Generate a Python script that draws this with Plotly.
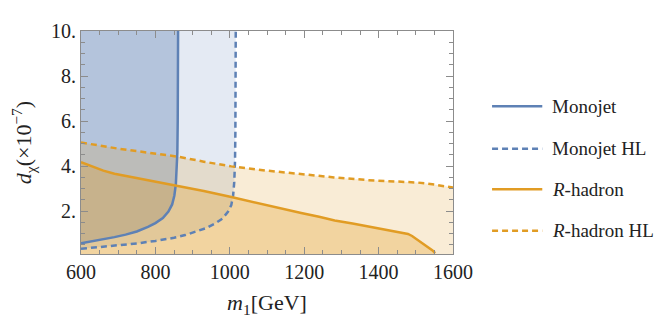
import plotly.graph_objects as go

# ---- data ----
m_mono = [600, 630, 660, 690, 720, 750, 780, 800, 820, 835, 845, 851, 855, 857, 859, 860, 861]
d_mono = [0.58, 0.66, 0.75, 0.85, 0.96, 1.1, 1.3, 1.47, 1.7, 1.98, 2.3, 2.7, 3.2, 3.8, 4.6, 6.0, 10.0]

m_monoHL = [600, 650, 700, 750, 800, 850, 880, 910, 935, 960, 980, 995, 1004, 1009, 1012, 1014, 1015, 1016]
d_monoHL = [0.33, 0.40, 0.48, 0.57, 0.68, 0.82, 0.94, 1.09, 1.24, 1.45, 1.67, 1.97, 2.27, 2.7, 3.3, 4.2, 5.5, 10.0]

m_rh = [600, 630, 660, 690, 744, 800, 861, 930, 1004, 1050, 1103, 1150, 1192, 1240, 1282,
        1330, 1371, 1420, 1460, 1479, 1490, 1506, 1520, 1533, 1545, 1552]
d_rh = [4.18, 3.98, 3.8, 3.66, 3.49, 3.32, 3.13, 2.9, 2.63, 2.45, 2.27, 2.09, 1.92, 1.75, 1.59,
        1.45, 1.32, 1.17, 1.06, 0.99, 0.9, 0.72, 0.56, 0.42, 0.26, 0.14]

m_rhHL = [600, 650, 699, 780, 861, 930, 1004, 1100, 1192, 1280, 1371, 1440, 1506, 1550, 1600]
d_rhHL = [5.05, 4.9, 4.78, 4.6, 4.42, 4.2, 3.99, 3.8, 3.64, 3.5, 3.38, 3.33, 3.27, 3.18, 3.05]

series_names = ["Monojet", "Monojet HL", "<i>R</i>-hadron", "<i>R</i>-hadron HL"]

x_ticks = [600, 800, 1000, 1200, 1400, 1600]
y_ticks = [2, 4, 6, 8, 10]
y_ticktext = ["2.", "4.", "6.", "8.", "10."]

x_min, x_max = 600, 1600
y_min, y_max = 0.1, 10

BLUE = "#5E81B5"
ORANGE = "#E19C24"
DASH = "6px,4px"

fig = go.Figure()

# fills
fig.add_trace(go.Scatter(x=m_monoHL + [x_min], y=d_monoHL + [y_max], fill="toself",
                         fillcolor="rgba(94,129,181,0.17)", line=dict(width=0),
                         mode="lines", showlegend=False, hoverinfo="skip"))
fig.add_trace(go.Scatter(x=m_mono + [x_min], y=d_mono + [y_max], fill="toself",
                         fillcolor="rgba(94,129,181,0.36)", line=dict(width=0),
                         mode="lines", showlegend=False, hoverinfo="skip"))
fig.add_trace(go.Scatter(x=m_rhHL + [x_max, x_min], y=d_rhHL + [y_min, y_min], fill="toself",
                         fillcolor="rgba(225,156,36,0.19)", line=dict(width=0),
                         mode="lines", showlegend=False, hoverinfo="skip"))
fig.add_trace(go.Scatter(x=m_rh + [m_rh[-1], x_min], y=d_rh + [y_min, y_min], fill="toself",
                         fillcolor="rgba(225,156,36,0.30)", line=dict(width=0),
                         mode="lines", showlegend=False, hoverinfo="skip"))

# lines
styles = [(BLUE, "solid"), (BLUE, DASH), (ORANGE, "solid"), (ORANGE, DASH)]
for (mx, dy), name, (col, dsh) in zip([(m_mono, d_mono), (m_monoHL, d_monoHL),
                                        (m_rh, d_rh), (m_rhHL, d_rhHL)], series_names, styles):
    fig.add_trace(go.Scatter(x=mx, y=dy, mode="lines", name=name,
                             line=dict(color=col, width=2.5, dash=dsh), showlegend=False))

FONT = "Liberation Serif"

# manual legend (paper coordinates)
leg_y = [0.662, 0.472, 0.290, 0.104]
for name, (col, dsh), ly in zip(series_names, styles, leg_y):
    fig.add_shape(type="line", xref="paper", yref="paper", x0=1.105, x1=1.24, y0=ly, y1=ly,
                  line=dict(color=col, width=2.5, dash=dsh))
    fig.add_annotation(xref="paper", yref="paper", x=1.26, y=ly, text=name, showarrow=False,
                       xanchor="left", yanchor="middle",
                       font=dict(family=FONT, size=19, color="#222"))

axis_common = dict(showline=True, linecolor="#8c8c8c", linewidth=1, mirror="ticks",
                   ticks="inside", tickcolor="#8c8c8c", ticklen=7, showgrid=False,
                   zeroline=False, tickfont=dict(family=FONT, size=20, color="#222"))

fig.update_xaxes(range=[x_min, x_max], tickvals=x_ticks,
                 minor=dict(dtick=50, tick0=0, ticks="inside", ticklen=4, tickcolor="#8c8c8c"),
                 title=dict(text="<i>m</i><sub>1</sub>[GeV]", font=dict(family=FONT, size=22, color="#222"),
                            standoff=12),
                 **axis_common)
fig.update_yaxes(range=[y_min, y_max], tickvals=y_ticks, ticktext=y_ticktext,
                 minor=dict(dtick=0.5, tick0=0, ticks="inside", ticklen=4, tickcolor="#8c8c8c"),
                 title=dict(text="<i>d</i><sub>χ</sub>(×10<sup>−7</sup>)", font=dict(family=FONT, size=22, color="#222"),
                            standoff=13),
                 **axis_common)

fig.update_layout(
    width=664, height=319,
    margin=dict(l=73, r=219, t=15, b=73),
    paper_bgcolor="white", plot_bgcolor="white",
    font=dict(family=FONT, size=20, color="#222"),
    showlegend=False,
)

fig.write_html("out.html")
